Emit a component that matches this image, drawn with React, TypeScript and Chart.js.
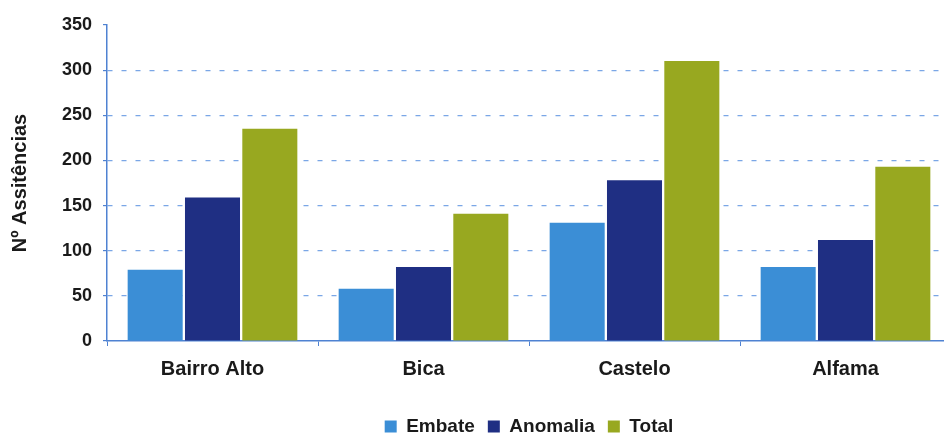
import React, { useEffect, useRef } from "react";
import { Chart, registerables } from "chart.js";

Chart.register(...registerables);

const categories = ["Bairro Alto", "Bica", "Castelo", "Alfama"];
const embate = [79, 58, 131, 82];
const anomalia = [159, 82, 178, 112];
const total = [235, 141, 310, 193];
const yTicks = [0, 50, 100, 150, 200, 250, 300, 350];

const FONT = "'Liberation Sans', Arial, sans-serif";
const AXIS_BLUE = "#4f82d2";
const GRID_BLUE = "#7aa6e6";

export default function App() {
  const canvasRef = useRef<HTMLCanvasElement | null>(null);

  useEffect(() => {
    const canvas = canvasRef.current;
    if (!canvas) return;
    const chart = new Chart(canvas, {
      type: "bar",
      data: {
        labels: categories,
        datasets: [
          { label: "Embate", data: embate, backgroundColor: "#3b8ed6" },
          { label: "Anomalia", data: anomalia, backgroundColor: "#1f2f83" },
          { label: "Total", data: total, backgroundColor: "#98a820" },
        ],
      },
      options: {
        animation: false,
        responsive: false,
        maintainAspectRatio: false,
        layout: { padding: { top: 25, right: 9, left: 0, bottom: 0 } },
        datasets: {
          bar: { categoryPercentage: 0.815, barPercentage: 0.96 },
        },
        plugins: {
          tooltip: { enabled: false },
          legend: {
            position: "bottom",
            fullSize: false,
            labels: {
              boxWidth: 12,
              boxHeight: 12,
              padding: 13,
              color: "#1a1a1a",
              font: { family: FONT, size: 19, weight: "bold" },
            },
          },
        },
        scales: {
          x: {
            grid: {
              drawOnChartArea: false,
              drawTicks: true,
              tickLength: 5,
              tickColor: AXIS_BLUE,
              offset: true,
            },
            border: { color: AXIS_BLUE, width: 1.5 },
            ticks: {
              padding: 11,
              color: "#1a1a1a",
              font: { family: FONT, size: 20, weight: "bold" },
            },
            afterFit: (scale: any) => {
              scale.height = 63;
            },
          },
          y: {
            min: 0,
            max: 350,
            afterBuildTicks: (scale: any) => {
              scale.ticks = yTicks.map((v) => ({ value: v }));
            },
            grid: {
              color: (ctx: any) =>
                ctx.tick && (ctx.tick.value === 0 || ctx.tick.value === 350)
                  ? "rgba(0,0,0,0)"
                  : GRID_BLUE,
              lineWidth: 1.2,
              drawTicks: true,
              tickLength: 4,
              tickColor: AXIS_BLUE,
              tickBorderDash: [],
            },
            border: { color: AXIS_BLUE, width: 1.5, dash: [5, 9] },
            ticks: {
              padding: 11,
              color: "#1a1a1a",
              font: { family: FONT, size: 18, weight: "bold" },
            },
            title: {
              display: true,
              text: "Nº Assitências",
              color: "#1a1a1a",
              padding: { top: 8, bottom: 0 },
              font: { family: FONT, size: 20, weight: "bold" },
            },
            afterFit: (scale: any) => {
              scale.width = 107;
            },
          },
        },
      },
    });
    return () => chart.destroy();
  }, []);

  return (
    <div
      style={{
        position: "fixed",
        left: 0,
        top: 0,
        width: 944,
        height: 434,
        overflow: "hidden",
        background: "#ffffff",
      }}
    >
      <canvas ref={canvasRef} width={960} height={446} style={{ display: "block" }} />
    </div>
  );
}
